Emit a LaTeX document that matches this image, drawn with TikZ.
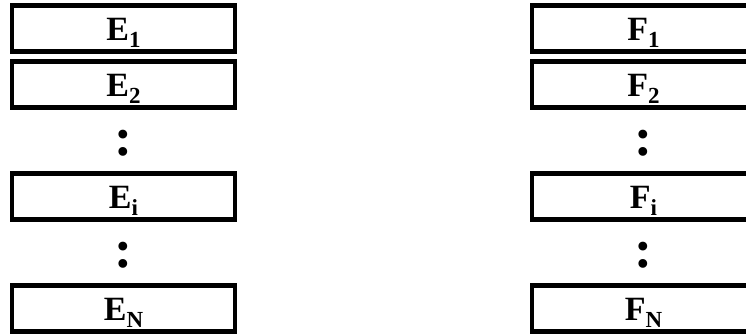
\documentclass[tikz,border=0pt]{standalone}
\usepackage{fontspec}
\setmainfont{Liberation Serif}
\usetikzlibrary{positioning}
\newcommand{\idx}[1]{\raisebox{-7pt}{\fontsize{23pt}{23pt}\selectfont#1}}

\begin{document}
\begin{tikzpicture}[
  x=1pt, y=1pt,
  font=\fontsize{34pt}{34pt}\selectfont\bfseries,
  cell/.style={draw, line width=4.5pt, minimum width=223pt, minimum height=46pt,
               inner sep=0pt, outer sep=0pt, text height=24pt, text depth=0pt},
  gap/.style={minimum width=223pt, minimum height=46pt, inner sep=0pt, outer sep=0pt,
              text height=30pt, text depth=0pt, font=\fontsize{54pt}{54pt}\selectfont\bfseries},
  node distance=10pt,
]
\clip (0,0) rectangle (746,-335);
\foreach \c/\L/\px in {e/E/123.5, f/F/643.5} {
  \node[cell] (\c1) at (\px,-28.5) {\L\idx{1}};
  \node[cell, below=of \c1] (\c2) {\L\idx{2}};
  \node[gap, below=of \c2] (\c dots1) {:};
  \node[cell, below=of \c dots1] (\c i) {\L\idx{i}};
  \node[gap, below=of \c i] (\c dots2) {:};
  \node[cell, below=of \c dots2] (\c n) {\L\idx{N}};
}
\end{tikzpicture}
\end{document}
